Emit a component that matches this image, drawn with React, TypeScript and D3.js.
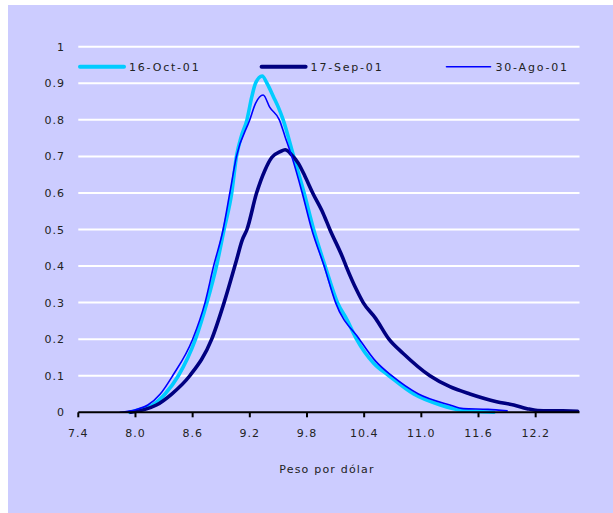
import React from "react";
import * as d3 from "d3";

const seriesNames = ["16-Oct-01", "17-Sep-01", "30-Ago-01"];
const seriesColors = ["#00CCFF", "#000080", "#0000FF"];
const seriesWidths = [3.6, 3.6, 1.6];

const octX = [7.94, 8.05, 8.18, 8.31, 8.45, 8.63, 8.75, 8.85, 8.93, 9.01, 9.06, 9.11, 9.17, 9.22, 9.26, 9.33, 9.38, 9.45, 9.5, 9.55, 9.66, 9.77, 9.87, 9.99, 10.12, 10.22, 10.32, 10.5, 10.66, 10.92, 11.2, 11.44, 11.6, 11.76];
const octY = [0, 0.008, 0.02, 0.05, 0.1, 0.2, 0.3, 0.4, 0.5, 0.6, 0.7, 0.754, 0.8, 0.862, 0.9, 0.92, 0.9, 0.862, 0.834, 0.8, 0.7, 0.6, 0.5, 0.4, 0.3, 0.253, 0.2, 0.134, 0.1, 0.05, 0.02, 0.005, 0.002, 0];

const sepX = [7.95, 8.1, 8.22, 8.38, 8.57, 8.8, 8.93, 9.06, 9.12, 9.17, 9.27, 9.36, 9.43, 9.52, 9.57, 9.64, 9.71, 9.78, 9.86, 9.97, 10.04, 10.17, 10.21, 10.32, 10.39, 10.52, 10.66, 10.81, 11.09, 11.3, 11.51, 11.79, 11.97, 12.11, 12.22, 12.45, 12.64];
const sepY = [0, 0.008, 0.02, 0.05, 0.1, 0.2, 0.3, 0.416, 0.471, 0.5, 0.599, 0.663, 0.697, 0.713, 0.718, 0.704, 0.681, 0.645, 0.6, 0.544, 0.5, 0.426, 0.4, 0.335, 0.3, 0.257, 0.2, 0.161, 0.1, 0.07, 0.05, 0.029, 0.02, 0.01, 0.005, 0.004, 0.003];

const agoX = [7.84, 8.0, 8.13, 8.26, 8.39, 8.6, 8.73, 8.82, 8.92, 8.99, 9.06, 9.2, 9.26, 9.34, 9.41, 9.51, 9.57, 9.64, 9.75, 9.85, 9.98, 10.1, 10.35, 10.52, 10.69, 10.97, 11.3, 11.44, 11.7, 11.9];
const agoY = [0, 0.007, 0.02, 0.05, 0.1, 0.2, 0.3, 0.4, 0.5, 0.6, 0.7, 0.8, 0.845, 0.868, 0.834, 0.8, 0.754, 0.7, 0.6, 0.5, 0.4, 0.3, 0.2, 0.14, 0.1, 0.05, 0.02, 0.01, 0.008, 0.004];

const xTicks = [7.4, 8.0, 8.6, 9.2, 9.8, 10.4, 11.0, 11.6, 12.2];
const yTicks = [0, 0.1, 0.2, 0.3, 0.4, 0.5, 0.6, 0.7, 0.8, 0.9, 1];
const xTitle = "Peso por dólar";

export default function App() {
  const W = 613, H = 513;
  const x = d3.scaleLinear().domain([7.4, 12.66]).range([78.3, 579.5]);
  const y = d3.scaleLinear().domain([0, 1]).range([412.3, 46.7]);
  const series = [
    octX.map((v, i) => [v, octY[i]] as [number, number]),
    sepX.map((v, i) => [v, sepY[i]] as [number, number]),
    agoX.map((v, i) => [v, agoY[i]] as [number, number]),
  ];
  const line = d3.line<[number, number]>().x(d => x(d[0])).y(d => y(d[1])).curve(d3.curveMonotoneX);
  const legendX = [80, 261.6, 446.5];
  const font = "'DejaVu Sans', Verdana, sans-serif";
  const textColor = "#222";
  return (
    <svg width={W} height={H} style={{ position: "absolute", left: 0, top: 0 }}>
      <rect x={8} y={5} width={W - 8} height={H - 5} fill="#CCCCFF" />
      {yTicks.filter(t => t > 0).map(t => (
        <line key={t} x1={x(7.4)} x2={x(12.66)} y1={y(t)} y2={y(t)} stroke="#fff" strokeWidth={2} />
      ))}
      {yTicks.map(t => (
        <text key={t} x={65} y={y(t) + 4} textAnchor="end" fontFamily={font} fontSize={11} letterSpacing={1} fill={textColor}>
          {t === 0 || t === 1 ? String(t) : t.toFixed(1)}
        </text>
      ))}
      {series.map((s, i) => (
        <path key={i} d={line(s) || ""} fill="none" stroke={seriesColors[i]} strokeWidth={seriesWidths[i]} strokeLinejoin="round" strokeLinecap="round" />
      ))}
      <line x1={x(7.4)} x2={x(12.66)} y1={y(0)} y2={y(0)} stroke="#000" strokeWidth={2} />
      {xTicks.map(t => (
        <g key={t}>
          <line x1={x(t)} x2={x(t)} y1={y(0)} y2={y(0) + 5} stroke="#000" strokeWidth={2} />
          <text x={x(t)} y={437} textAnchor="middle" fontFamily={font} fontSize={11} letterSpacing={1} fill={textColor}>
            {t.toFixed(1)}
          </text>
        </g>
      ))}
      <text x={327} y={473} textAnchor="middle" fontFamily={font} fontSize={11} letterSpacing={1.2} fill={textColor}>
        {xTitle}
      </text>
      {seriesNames.map((n, i) => (
        <g key={n}>
          <line x1={legendX[i]} x2={legendX[i] + 44} y1={66.7} y2={66.7} stroke={seriesColors[i]} strokeWidth={i === 2 ? 1.6 : 4} strokeLinecap="round" />
          <text x={legendX[i] + 49} y={70.5} fontFamily={font} fontSize={11} letterSpacing={1.8} fill={textColor}>
            {n}
          </text>
        </g>
      ))}
    </svg>
  );
}
